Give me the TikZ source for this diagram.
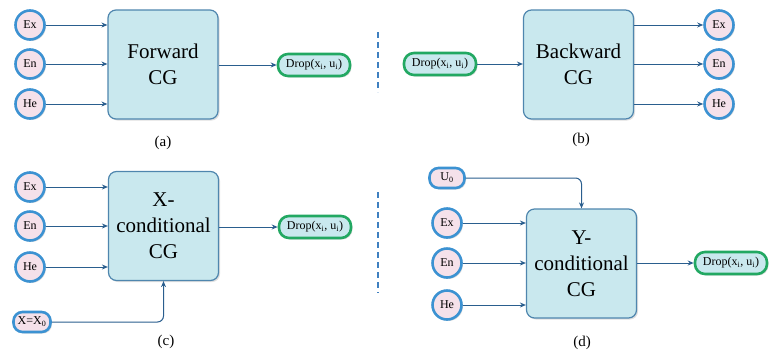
\documentclass[tikz,border=0pt]{standalone}
\usepackage{fontspec}
\setmainfont{Liberation Serif}
\usetikzlibrary{arrows.meta,shadows}
\definecolor{boxfill}{HTML}{C9E8EE}
\definecolor{boxdraw}{HTML}{4F86AE}
\definecolor{varfill}{HTML}{F5E1EA}
\definecolor{vardraw}{HTML}{3C92D2}
\definecolor{dropdraw}{HTML}{22A862}
\definecolor{arrcol}{HTML}{2A5E8E}
\definecolor{dashcol}{HTML}{3F80C0}
\tikzset{
  shad/.style={drop shadow={shadow xshift=1.5pt,shadow yshift=-1.5pt,opacity=0.25}},
  cg/.style={draw=boxdraw,fill=boxfill,line width=1.2pt,rounded corners=8pt,
    minimum width=110pt,minimum height=109pt,align=center,
    font=\fontsize{21}{26}\selectfont,shad},
  var/.style={circle,draw=vardraw,fill=varfill,line width=2.6pt,minimum size=29pt,
    inner sep=0pt,font=\fontsize{12}{13}\selectfont,shad},
  drop/.style={draw=dropdraw,fill=boxfill,line width=2.6pt,rounded corners=10pt,
    minimum width=72pt,minimum height=22pt,inner sep=1pt,
    font=\fontsize{12}{13}\selectfont,shad},
  cond/.style={draw=vardraw,fill=varfill,line width=2.6pt,rounded corners=9pt,
    minimum height=20pt,inner sep=2pt,font=\fontsize{12}{13}\selectfont,shad},
  arr/.style={draw=arrcol,line width=1pt,-{Stealth[length=6pt,width=5pt]}},
  caplabel/.style={font=\fontsize{15}{16}\selectfont},
  sepline/.style={draw=dashcol,line width=1.4pt,dash pattern=on 6pt off 4pt}
}
\newcommand{\dropxu}{Drop(x\textsubscript{i}, u\textsubscript{i})}
\begin{document}
\begin{tikzpicture}[x=1pt,y=-1pt]
\useasboundingbox (0,0) rectangle (770,354);
% (a)
\node[cg] (fa) at (163,64.5) {Forward\\CG};
\node[var] (exa) at (30,25) {Ex};
\node[var] (ena) at (30,64) {En};
\node[var] (hea) at (30,104) {He};
\node[drop] (da) at (314,65) {\dropxu};
\draw[arr] (exa) -- (exa -| fa.west);
\draw[arr] (ena) -- (ena -| fa.west);
\draw[arr] (hea) -- (hea -| fa.west);
\draw[arr] (fa.east |- da) -- (da);
\node[caplabel] (la) at (163,143) {(a)};
% separator top
\coordinate (s1) at (378,32);
\coordinate (s2) at (378,92);
\draw[sepline] (s1) -- (s2);
% (b)
\node[cg] (fb) at (578.5,64.5) {Backward\\CG};
\node[drop] (db) at (440,64) {\dropxu};
\node[var] (exb) at (719,25) {Ex};
\node[var] (enb) at (719,64) {En};
\node[var] (heb) at (719,104) {He};
\draw[arr] (db) -- (db -| fb.west);
\draw[arr] (exb -| fb.east) -- (exb);
\draw[arr] (enb -| fb.east) -- (enb);
\draw[arr] (heb -| fb.east) -- (heb);
\node[caplabel] (lb) at (581,140) {(b)};
% (c)
\node[cg] (fc) at (163.5,226) {X-\\conditional\\CG};
\node[var] (exc) at (30,187) {Ex};
\node[var] (enc) at (30,226) {En};
\node[var] (hec) at (30,267) {He};
\node[drop] (dc) at (315,227) {\dropxu};
\node[cond,minimum width=37pt] (x0) at (32,322) {X=X\textsubscript{0}};
\draw[arr] (exc) -- (exc -| fc.west);
\draw[arr] (enc) -- (enc -| fc.west);
\draw[arr] (hec) -- (hec -| fc.west);
\draw[arr] (fc.east |- dc) -- (dc);
\draw[arr,rounded corners=6pt] (x0) -| (fc.south);
\node[caplabel] (lc) at (166,342) {(c)};
% separator bottom
\coordinate (s3) at (378,192);
\coordinate (s4) at (378,293);
\draw[sepline] (s3) -- (s4);
% (d)
\node[cg] (fd) at (581.5,263.5) {Y-\\conditional\\CG};
\node[cond,minimum width=35pt] (u0) at (447,178) {U\textsubscript{0}};
\node[var] (exd) at (447,223) {Ex};
\node[var] (end) at (447,263) {En};
\node[var] (hed) at (447,305) {He};
\node[drop] (dd) at (731,263) {\dropxu};
\draw[arr] (exd) -- (exd -| fd.west);
\draw[arr] (end) -- (end -| fd.west);
\draw[arr] (hed) -- (hed -| fd.west);
\draw[arr] (fd.east |- dd) -- (dd);
\draw[arr,rounded corners=6pt] (u0) -| (fd.north);
\node[caplabel] (ld) at (582,343) {(d)};
\end{tikzpicture}
\end{document}
